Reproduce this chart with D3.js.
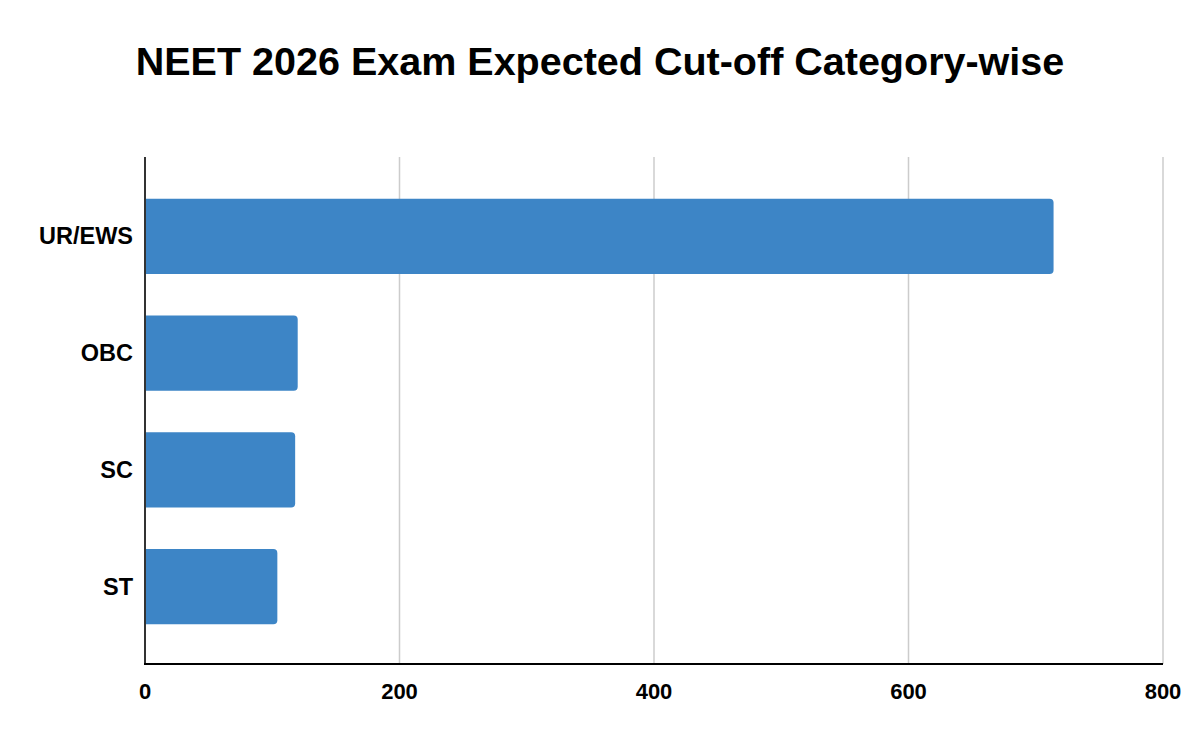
<!DOCTYPE html>
<html>
<head>
<meta charset="utf-8">
<script src="https://cdn.jsdelivr.net/npm/d3@7"></script>
<style>
body { margin: 0; background: #fff; }
text { font-family: "Liberation Sans", Arial, sans-serif; }
</style>
</head>
<body>
<svg width="1200" height="742"></svg>
<script>
var categories = ["UR/EWS", "OBC", "SC", "ST"];
var cutoffs = [714, 120, 118, 104];
var xTicks = [0, 200, 400, 600, 800];

var svg = d3.select("svg");
var plotLeft = 145, plotRight = 1163, plotTop = 157, plotBottom = 664;

svg.append("rect").attr("width", 1200).attr("height", 742).attr("fill", "#fff");

svg.append("text")
    .attr("x", 600).attr("y", 75)
    .attr("text-anchor", "middle")
    .attr("font-size", 39.5).attr("font-weight", "bold")
    .text("NEET 2026 Exam Expected Cut-off Category-wise");

var xScale = d3.scaleLinear().domain([0, 800]).range([plotLeft, plotRight]);
// bands sit a touch lower than the axis frame
var yScale = d3.scaleBand().domain(categories).range([plotTop + 1, plotBottom + 1])
    .paddingInner(0.357).paddingOuter(0.35);

// gridlines
svg.selectAll(".grid").data(xTicks.slice(1)).enter().append("line")
    .attr("x1", function(d){ return xScale(d); })
    .attr("x2", function(d){ return xScale(d); })
    .attr("y1", plotTop).attr("y2", plotBottom)
    .attr("stroke", "#cccccc").attr("stroke-width", 1.5);

// bars with rounded right end
var r = 4;
svg.selectAll(".bar").data(cutoffs).enter().append("path")
    .attr("fill", "#3d85c6")
    .attr("d", function(d, i){
        var x0 = xScale(0), x1 = xScale(d);
        var y0 = yScale(categories[i]), h = yScale.bandwidth();
        return "M" + x0 + "," + y0 + "H" + (x1 - r) +
            "Q" + x1 + "," + y0 + " " + x1 + "," + (y0 + r) +
            "V" + (y0 + h - r) +
            "Q" + x1 + "," + (y0 + h) + " " + (x1 - r) + "," + (y0 + h) +
            "H" + x0 + "Z";
    });

// left axis line
svg.append("line").attr("x1", plotLeft).attr("x2", plotLeft).attr("y1", plotTop).attr("y2", plotBottom)
    .attr("stroke", "#333").attr("stroke-width", 2);
// bottom axis line
svg.append("line").attr("x1", plotLeft - 1).attr("x2", plotRight).attr("y1", plotBottom).attr("y2", plotBottom)
    .attr("stroke", "#000").attr("stroke-width", 2);

// x tick labels
svg.selectAll(".xt").data(xTicks).enter().append("text")
    .attr("x", function(d){ return xScale(d); })
    .attr("y", 699)
    .attr("text-anchor", "middle")
    .attr("font-size", 22).attr("font-weight", "bold")
    .text(function(d){ return d; });

// category labels
svg.selectAll(".yt").data(categories).enter().append("text")
    .attr("x", 133)
    .attr("y", function(d){ return yScale(d) + yScale.bandwidth() / 2 + 8; })
    .attr("text-anchor", "end")
    .attr("font-size", 23.5).attr("font-weight", "bold")
    .text(function(d){ return d; });
</script>
</body>
</html>
